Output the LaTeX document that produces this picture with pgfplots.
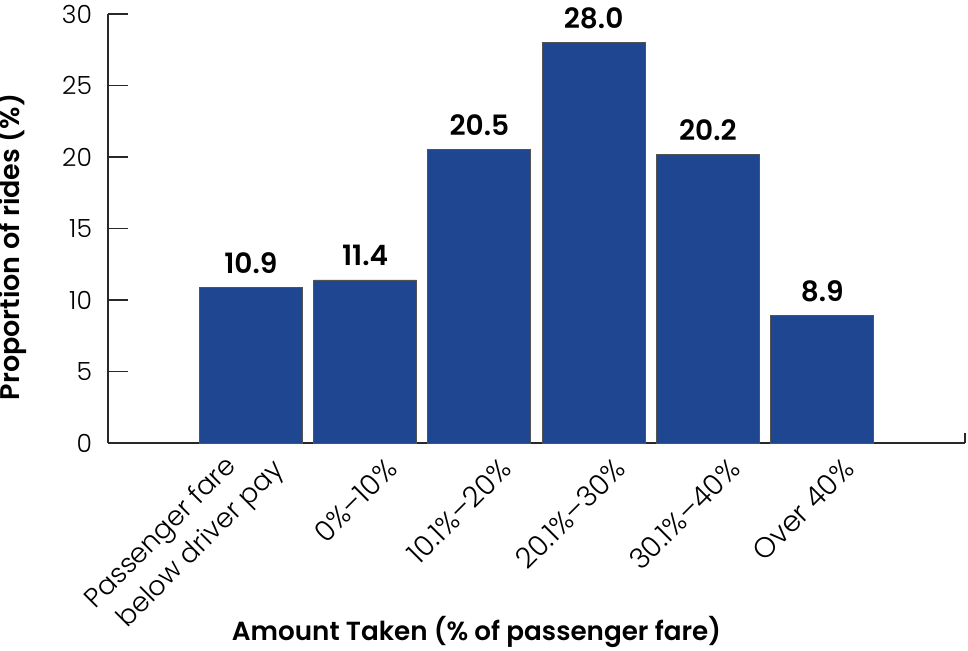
\documentclass[border=0pt]{standalone}
\usepackage{pgfplots}
\pgfplotsset{compat=1.18}
\usepackage{fontspec}
\setmainfont{Poppins}[BoldFont={Poppins SemiBold}]
\newfontfamily\lightfont{Poppins Light}[Ligatures=TeX]
\definecolor{barblue}{RGB}{31,70,144}
\definecolor{axisgray}{RGB}{40,40,40}
\begin{document}
\begin{tikzpicture}
\begin{axis}[
  scale only axis,
  width=428.5pt, height=214.5pt,
  xmin=-1.25, xmax=6.25, ymin=0, ymax=30,
  axis x line=bottom, axis y line=left,
  axis line style={-, axisgray, line width=0.6pt},
  xtick={0,1,2,3,4,5},
  xticklabels={{\fontsize{13.5}{18}\selectfont\begin{tabular}[b]{@{}l@{}}Passenger fare\\\hspace{4.5pt}below driver pay\end{tabular}},{0\%--10\%},{10.1\%--20\%},{20.1\%--30\%},{30.1\%--40\%},{Over 40\%}},
  x tick style={draw=none},
  ytick={0,5,10,15,20,25,30},
  y tick style={axisgray, line width=0.6pt},
  tick align=inside,
  major tick length=10pt,
  /pgf/number format/assume math mode=true,
  yticklabel style={font=\lightfont\fontsize{12.5}{15}\selectfont, xshift=-4.5pt},
  xticklabel style={xshift=17pt, yshift=-14pt, rotate=45, anchor=base east, inner sep=0pt, font=\lightfont\fontsize{14.2}{18}\selectfont},
  ylabel={Proportion of rides (\%)},
  ylabel style={font=\bfseries\fontsize{13.5}{16}\selectfont, at={(rel axis cs:0,0.457)}, anchor=south, inner sep=0pt, yshift=40.5pt},
  xlabel={Amount Taken (\% of passenger fare)},
  xlabel style={font=\bfseries\fontsize{13.1}{16}\selectfont, at={(rel axis cs:0.43,0)}, anchor=base, inner sep=0pt, yshift=-99pt},
  nodes near coords={\pgfmathprintnumber[fixed,fixed zerofill,precision=1]{\pgfplotspointmeta}},
  nodes near coords style={font=\bfseries\fontsize{14}{16}\selectfont, inner sep=0pt, anchor=base, yshift=7pt},
  clip=false,
]
\addplot[ybar, bar width=51.5pt, fill=barblue, draw=axisgray!80, line width=0.4pt] coordinates {
  (0,10.9) (1,11.4) (2,20.5) (3,28.0) (4,20.2) (5,8.9)
};
\draw[axisgray, line width=0.6pt] (rel axis cs:1,0) -- ([yshift=5pt]rel axis cs:1,0);
\end{axis}
\pgfresetboundingbox
\path (current axis.south west) ++(-54pt,-104pt) rectangle ++(484pt,325.5pt);
\end{tikzpicture}
\end{document}
